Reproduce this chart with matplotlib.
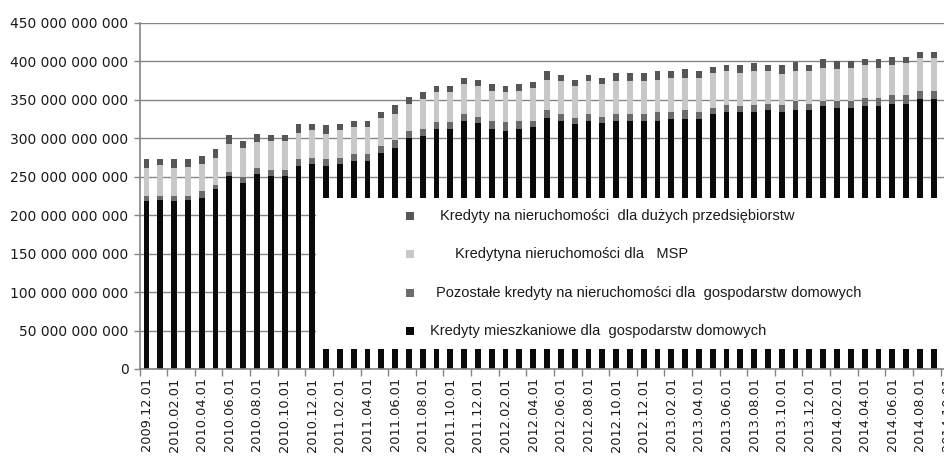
import matplotlib
matplotlib.use("Agg")
import matplotlib.pyplot as plt
from matplotlib.patches import Rectangle
import numpy as np

months = [
    "2009.12.01", "2010.01.01", "2010.02.01", "2010.03.01", "2010.04.01", "2010.05.01",
    "2010.06.01", "2010.07.01", "2010.08.01", "2010.09.01", "2010.10.01", "2010.11.01",
    "2010.12.01", "2011.01.01", "2011.02.01", "2011.03.01", "2011.04.01", "2011.05.01",
    "2011.06.01", "2011.07.01", "2011.08.01", "2011.09.01", "2011.10.01", "2011.11.01",
    "2011.12.01", "2012.01.01", "2012.02.01", "2012.03.01", "2012.04.01", "2012.05.01",
    "2012.06.01", "2012.07.01", "2012.08.01", "2012.09.01", "2012.10.01", "2012.11.01",
    "2012.12.01", "2013.01.01", "2013.02.01", "2013.03.01", "2013.04.01", "2013.05.01",
    "2013.06.01", "2013.07.01", "2013.08.01", "2013.09.01", "2013.10.01", "2013.11.01",
    "2013.12.01", "2014.01.01", "2014.02.01", "2014.03.01", "2014.04.01", "2014.05.01",
    "2014.06.01", "2014.07.01", "2014.08.01", "2014.09.01", "2014.10.01",
]

# values in billions PLN
housing_hh = [218, 220, 218, 220, 223, 234, 251, 242, 254, 251, 251, 264, 267, 264, 267, 271,
              271, 281, 287, 301, 303, 312, 312, 323, 320, 312, 309, 312, 315, 326, 323, 318,
              323, 320, 323, 323, 323, 323, 325, 325, 325, 331, 334, 334, 334, 337, 334, 337,
              337, 342, 340, 340, 342, 342, 345, 345, 351, 351, 352]
other_hh = [7, 5, 7, 5, 9, 5, 5, 8, 7, 8, 8, 9, 8, 9, 8, 8,
            8, 9, 11, 8, 9, 9, 9, 9, 8, 11, 12, 11, 8, 11, 9, 8,
            9, 8, 9, 9, 9, 11, 9, 12, 9, 8, 10, 8, 10, 8, 10, 11,
            8, 7, 9, 9, 11, 11, 11, 11, 11, 11, 11]
msp = [37, 40, 37, 38, 34, 36, 37, 37, 34, 37, 37, 34, 36, 33, 36, 36,
       36, 36, 34, 36, 39, 39, 39, 39, 40, 39, 39, 39, 42, 39, 42, 42,
       42, 43, 42, 42, 42, 42, 45, 42, 45, 46, 43, 43, 43, 43, 40, 40,
       43, 43, 41, 43, 42, 39, 39, 42, 42, 42, 42]
large_ent = [11, 8, 11, 10, 11, 11, 11, 9, 11, 8, 8, 11, 8, 11, 8, 8,
             8, 8, 11, 9, 9, 8, 8, 8, 8, 9, 8, 9, 8, 11, 8, 8,
             8, 8, 11, 11, 11, 11, 8, 11, 8, 8, 8, 11, 11, 8, 11, 11,
             8, 11, 11, 9, 8, 11, 11, 8, 8, 8, 8]

labels = [
    "Kredyty mieszkaniowe dla  gospodarstw domowych",
    "Pozostałe kredyty na nieruchomości dla  gospodarstw domowych",
    "Kredytyna nieruchomości dla   MSP",
    "Kredyty na nieruchomości  dla dużych przedsiębiorstw",
]
colors = ["#0a0a0a", "#6b6b6b", "#c8c8c8", "#565656"]
yticks_vals = [0, 50, 100, 150, 200, 250, 300, 350, 400, 450]

W, H = 945, 457
fig = plt.figure(figsize=(W / 100, H / 100), dpi=100)
left_px, right_px, top_px, bot_px = 139.6, 954.4, 23, 369
ax = fig.add_axes([left_px / W, (H - bot_px) / H, (right_px - left_px) / W, (bot_px - top_px) / H])

n = len(months)
x = np.arange(n)
bottom = np.zeros(n)
series = [housing_hh, other_hh, msp, large_ent]
for vals, col in zip(series, colors):
    v = np.array(vals, dtype=float) * 1e9
    ax.bar(x, v, width=0.42, bottom=bottom, color=col, linewidth=0, zorder=2)
    bottom += v

ax.set_xlim(-0.5, n - 0.5)
ax.set_ylim(0, 450e9)
ax.set_axisbelow(True)
grid_col = "#858585"
ax.set_yticks([v * 1e9 for v in yticks_vals])
ax.set_yticklabels([f"{v * 1_000_000_000:,}".replace(",", " ") for v in yticks_vals],
                   fontsize=10, color="#1a1a1a", family="DejaVu Sans")
ax.yaxis.grid(True, color=grid_col, linewidth=1.0, zorder=0)
ax.tick_params(axis="y", length=4, width=1, color=grid_col, pad=4)

ax.set_xticks(x[::2])
ax.set_xticklabels(months[::2], rotation=90, fontsize=9.3, color="#1a1a1a", family="DejaVu Sans")
ax.tick_params(axis="x", which="major", length=0, pad=6)
ax.set_xticks(np.arange(-0.5, n, 2), minor=True)
ax.tick_params(axis="x", which="minor", length=5, width=1, color=grid_col)

for s in ["top", "right"]:
    ax.spines[s].set_visible(False)
for s in ["left", "bottom"]:
    ax.spines[s].set_color(grid_col)
    ax.spines[s].set_linewidth(1.2)

# legend box (white, borderless) drawn over the bars
lx0, ly0, ly1 = 316, 198, 349
fig.patches.append(Rectangle((lx0 / W, (H - ly1) / H), 1 - lx0 / W + 0.01, (ly1 - ly0) / H,
                             transform=fig.transFigure, facecolor="white", edgecolor="none",
                             zorder=10))
rows_y = [331, 293, 254, 216]
text_x = [430, 436, 455, 440]
for lab, col, ry, tx in zip(labels, colors, rows_y, text_x):
    fig.patches.append(Rectangle(((410 - 4) / W, (H - ry - 4) / H), 8 / W, 8 / H,
                                 transform=fig.transFigure, facecolor=col, edgecolor="none",
                                 zorder=11))
    fig.text(tx / W, (H - ry) / H, lab, fontsize=10.5, va="center", ha="left", color="#1a1a1a",
             family=["Liberation Sans", "DejaVu Sans"], zorder=12)

fig.savefig("out.png", dpi=100)
